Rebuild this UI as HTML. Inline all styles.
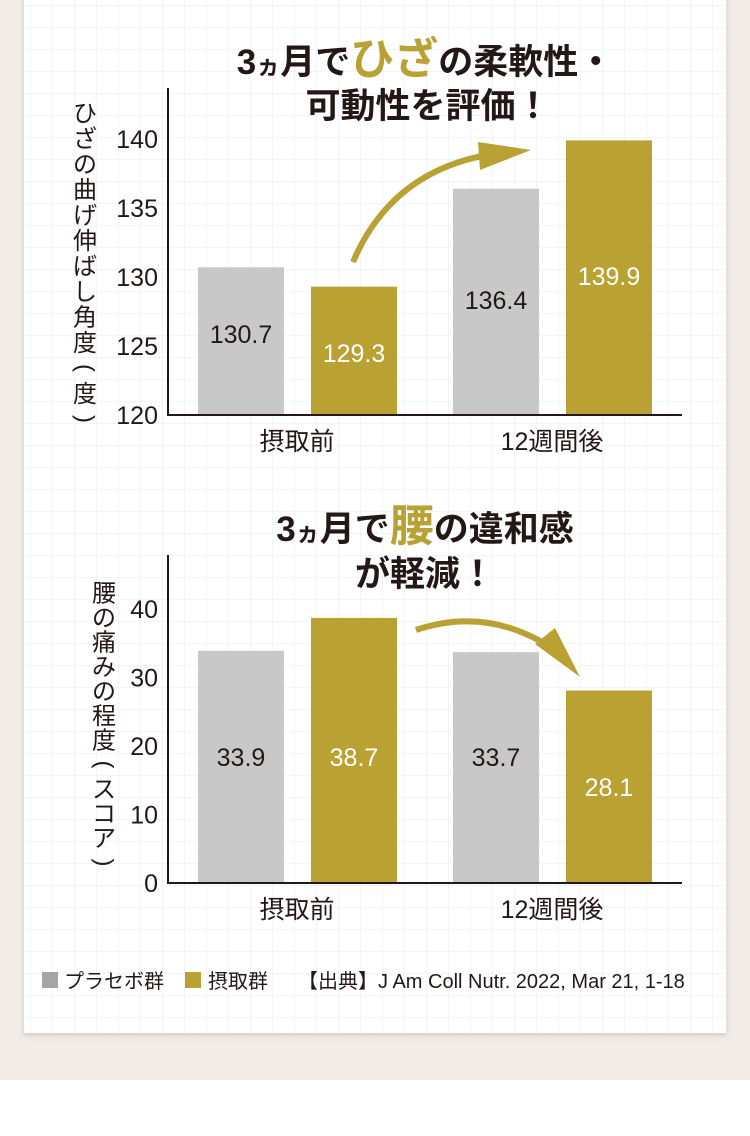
<!DOCTYPE html>
<html><head><meta charset="utf-8"><style>
body{margin:0;width:750px;height:1131px;background:#fff;overflow:hidden;font-family:"Liberation Sans","Noto Sans CJK JP",sans-serif}
</style></head><body>
<svg width="750" height="1131" xmlns="http://www.w3.org/2000/svg" font-family="Liberation Sans, Noto Sans CJK JP, sans-serif">
<defs>
<pattern id="grid" x="9" y="6" width="22" height="22" patternUnits="userSpaceOnUse"><path d="M22 0V22M0 22H22" fill="none" stroke="#e3eaf3" stroke-width="1"/></pattern>
<filter id="sh" x="-5%" y="-5%" width="110%" height="110%"><feDropShadow dx="0" dy="2" stdDeviation="3" flood-color="#b0a89e" flood-opacity="0.5"/></filter>
</defs>
<rect x="0" y="0" width="750" height="1080" fill="#f1ece7"/>
<rect x="24" y="-10" width="702" height="1043" fill="#fff" filter="url(#sh)"/>
<rect x="24" y="0" width="702" height="1033" fill="url(#grid)"/>
<g font-weight="bold" fill="#231815" text-anchor="middle">
<text x="425" y="74" font-size="35">3<tspan font-size="24">ヵ</tspan>月で<tspan fill="#b9a233" font-size="44">ひざ</tspan>の柔軟性・</text>
<text x="428" y="118" font-size="35">可動性を評価！</text>
</g>
<g id="c1"></g>
<g font-weight="bold" fill="#231815" text-anchor="middle">
<text x="425" y="541" font-size="35">3<tspan font-size="24">ヵ</tspan>月で<tspan fill="#b9a233" font-size="44">腰</tspan>の違和感</text>
<text x="425" y="586" font-size="35">が軽減！</text>
</g>
<g id="c2"></g>
<path d="M353 262 Q390 175 482 156" fill="none" stroke="#b9a233" stroke-width="6"/>
<polygon points="478,142 531,150 480,170" fill="#b9a233"/>
<path d="M416 630 Q490 605 558 652" fill="none" stroke="#b9a233" stroke-width="6"/>
<polygon points="555,628 580,677 535,644" fill="#b9a233"/>
<g font-size="20" fill="#231815">
<rect x="42" y="972" width="16" height="16" fill="#a5a5a5"/>
<text x="64" y="988">プラセボ群</text>
<rect x="185" y="972" width="16" height="16" fill="#b9a233"/>
<text x="208" y="988">摂取群</text>
<text x="298" y="988">【出典】J Am Coll Nutr. 2022, Mar 21, 1-18</text>
</g>
</svg>
<script>
const groups=["摂取前","12週間後"];
const kneePlacebo=[130.7,136.4];
const kneeIntake=[129.3,139.9];
const kneeTicks=[120,125,130,135,140];
const backPlacebo=[33.9,33.7];
const backIntake=[38.7,28.1];
const backTicks=[0,10,20,30,40];
const NS="http://www.w3.org/2000/svg";
function mk(p,t,a,txt){const e=document.createElementNS(NS,t);for(const k in a)e.setAttribute(k,a[k]);if(txt!==undefined)e.textContent=txt;p.appendChild(e);return e;}
function chart(id,cfg){
 const g=document.getElementById(id);
 const y=v=>cfg.y0-(v-cfg.min)/(cfg.max-cfg.min)*(cfg.y0-cfg.yMax);
 cfg.ticks.forEach(t=>{const e=mk(g,'text',{x:158,y:y(t)+9,'font-size':25,'text-anchor':'end',fill:'#231815'},t);
  
  });
 const gx=[198,453];
 groups.forEach((c,i)=>{
  [[cfg.p[i],'#c8c8c9','#231815',0],[cfg.s[i],'#b9a233','#fff',113]].forEach(([v,col,tc,off],j)=>{
   const x=gx[i]+off, top=y(v);
   const r=mk(g,'rect',{x:x,y:top,width:86,height:cfg.y0-top,fill:col});
   
   
   const t=mk(g,'text',{x:x+43,y:cfg.labelY(top,j,i),'font-size':25,'text-anchor':'middle',fill:tc},v.toFixed(1));
   
   
  });
  const cl=mk(g,'text',{x:gx[i]+99,y:cfg.y0+35,'font-size':25,'text-anchor':'middle',fill:'#231815'},c);
  
  
 });
 const ax=mk(g,'path',{d:`M168 ${cfg.axTop}V${cfg.y0}H682`,fill:'none',stroke:'#231815','stroke-width':2});
 
 
 const tg=mk(g,'g',{});
 
 
 [...cfg.title].forEach((ch,k)=>{
  const cy=cfg.ty+k*cfg.step;
  if(ch==='（'||ch==='）'){
   mk(tg,'text',{x:0,y:0,'font-size':cfg.tfs,fill:'#231815','text-anchor':'middle',transform:`translate(${cfg.tx},${cy}) rotate(90)`,'dominant-baseline':'central'},ch==='（'?'(':')');
  } else {
   mk(tg,'text',{x:cfg.tx,y:cy+cfg.tfs*0.36,'font-size':cfg.tfs,fill:'#231815','text-anchor':'middle'},ch);
  }
 });
}
chart('c1',{min:120,max:140,y0:415,yMax:139,axTop:88,ticks:kneeTicks,p:kneePlacebo,s:kneeIntake,title:"ひざの曲げ伸ばし角度（度）",tx:85,ty:113,step:25.5,tfs:24,
 labelY:(top,j,i)=>[[343,362],[309,285]][i][j]});
chart('c2',{min:0,max:40,y0:883,yMax:609,axTop:555,ticks:backTicks,p:backPlacebo,s:backIntake,title:"腰の痛みの程度（スコア）",tx:104,ty:593,step:24.5,tfs:24,
 labelY:(top,j,i)=>[[766,766],[766,796]][i][j]});
</script>
</body></html>
